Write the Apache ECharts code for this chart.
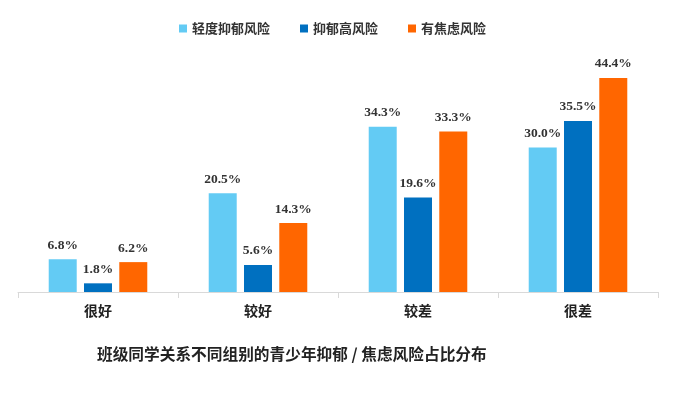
<!DOCTYPE html>
<html><head><meta charset="utf-8">
<script src="https://cdn.jsdelivr.net/npm/echarts@6/dist/echarts.min.js"></script>
<style>html,body{margin:0;padding:0;background:#fff}#c{width:691px;height:396px}</style>
</head><body><div id="c"></div>
<script>
const categories = ['很好', '较好', '较差', '很差'];
const seriesNames = ['轻度抑郁风险', '抑郁高风险', '有焦虑风险'];
const mildDepression = [6.8, 20.5, 34.3, 30.0];
const highDepression = [1.8, 5.6, 19.6, 35.5];
const anxiety = [6.2, 14.3, 33.3, 44.4];
const title = '班级同学关系不同组别的青少年抑郁 / 焦虑风险占比分布';
const colors = ['#63CBF4', '#0070C0', '#FF6600'];
const values = [mildDepression, highDepression, anxiety];

const chart = echarts.init(document.getElementById('c'));
chart.setOption({
  animation: false,
  title: {
    text: title, left: 92, top: 341,
    textStyle: {fontFamily: 'Noto Sans CJK SC', fontSize: 15.7, fontWeight: 'bold', color: '#222'}
  },
  legend: {
    top: 17, left: 174, itemWidth: 8, itemHeight: 8, itemGap: 30,
    icon: 'rect',
    textStyle: {fontFamily: 'Noto Sans CJK SC', fontSize: 13, color: '#333', fontWeight: 'bold'}
  },
  grid: {left: 18, right: 33, top: 51, bottom: 104, containLabel: false},
  xAxis: {
    type: 'category', data: categories,
    axisLine: {lineStyle: {color: '#d9d9d9'}},
    axisTick: {show: true, length: 6, lineStyle: {color: '#d9d9d9'}},
    axisLabel: {fontFamily: 'Noto Sans CJK SC', fontSize: 14, fontWeight: 'bold', color: '#222', margin: 12}
  },
  yAxis: {type: 'value', min: 0, max: 50, show: false, splitLine: {show: false}},
  series: seriesNames.map((n, i) => ({
    name: n, type: 'bar', data: values[i], barWidth: 28, barGap: '26%',
    itemStyle: {color: colors[i]},
    label: {
      show: true, position: 'top', distance: 7,
      formatter: p => p.value.toFixed(1) + '%',
      fontFamily: 'Liberation Serif', fontWeight: 'bold', fontSize: 13.5, color: '#333'
    }
  }))
});
</script></body></html>
